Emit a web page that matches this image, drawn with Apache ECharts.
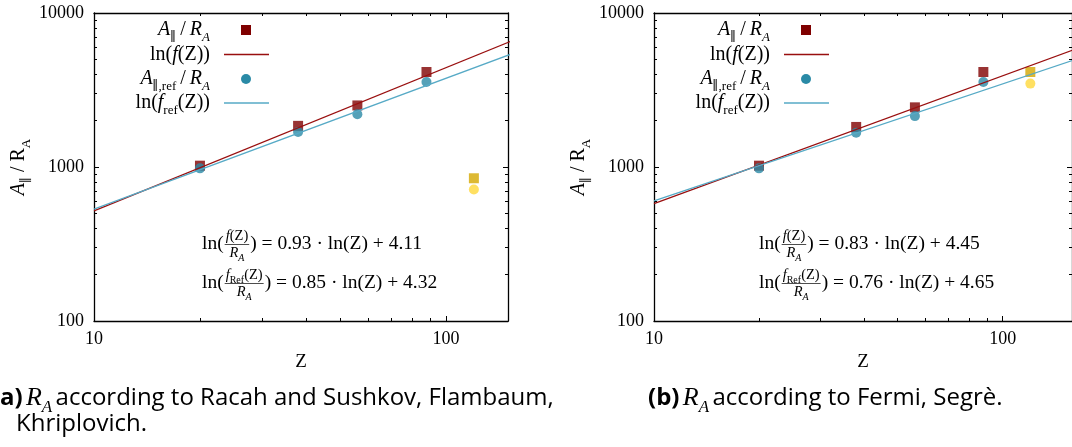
<!DOCTYPE html>
<html>
<head>
<meta charset="utf-8">
<title>A_par / R_A versus Z</title>
<script src="https://cdn.jsdelivr.net/npm/echarts@6/dist/echarts.min.js"></script>
<style>
  html, body { margin: 0; padding: 0; background: #ffffff; }
  #chart { width: 1072px; height: 447px; }
</style>
</head>
<body>
<div id="chart"></div>
<script>
// ---- data -------------------------------------------------------------
// nuclear charge of the fitted elements and of the extra element
const zFit = [20, 38, 56, 88];
const zExtra = [120];

// panel (a): R_A after Racah and Sushkov, Flambaum, Khriplovich
const aParA = [1020, 1850, 2510, 4140];
const aParRefA = [980, 1690, 2200, 3560];
const aParExtraA = [845];
const aParRefExtraA = [715];
const slopesA = [0.93, 0.85];
const interceptsA = [4.11, 4.32];

// panel (b): R_A after Fermi, Segrè
const aParB = [1020, 1820, 2440, 4140];
const aParRefB = [980, 1670, 2140, 3560];
const aParExtraB = [4140];
const aParRefExtraB = [3480];
const slopesB = [0.83, 0.76];
const interceptsB = [4.45, 4.65];

// axis ranges and ticks
const xMin = 10;
const xMaxA = 150;
const xMaxB = 158;
const yMin = 100;
const yMax = 10000;
const xMajorTicks = [10, 100];
const xMinorTicks = [20, 30, 40, 50, 60, 70, 80, 90];
const yMajorTicks = [100, 1000, 10000];
const yMinorTicks = [200, 300, 400, 500, 600, 700, 800, 900,
                     2000, 3000, 4000, 5000, 6000, 7000, 8000, 9000];

// ---- styling ----------------------------------------------------------
const SERIF = '"Liberation Serif", "DejaVu Serif", serif';
const SANS = '"Open Sans", "Noto Sans", sans-serif';
const RED_MARK = '#7f0000';
const RED_LINE = '#990f0f';
const BLUE_MARK = '#2a8aa6';
const BLUE_LINE = '#56aac6';
const GOLD_MARK = '#d4a800';
const YELLOW_MARK = '#ffd83b';

const panels = [
  { left: 94, width: 414, xMax: xMaxA, sq: aParA, ci: aParRefA, sqX: aParExtraA, ciX: aParRefExtraA,
    slopes: slopesA, intercepts: interceptsA },
  { left: 654, width: 421, xMax: xMaxB, sq: aParB, ci: aParRefB, sqX: aParExtraB, ciX: aParRefExtraB,
    slopes: slopesB, intercepts: interceptsB }
];
const gridTop = 13;
const gridHeight = 308;

// fitted power law f(Z) = exp(b) * Z^a, evaluated at the x-range ends
function fitLine(slope, intercept, xMax) {
  return [xMin, xMax + 10].map(z => [z, Math.exp(intercept) * Math.pow(z, slope)]);
}
function pairs(xs, ys) { return xs.map((x, i) => [x, ys[i]]); }

// ---- text measuring for hand-built formulas ---------------------------
const measureCtx = document.createElement('canvas').getContext('2d');
function textWidth(str, font) { measureCtx.font = font; return measureCtx.measureText(str).width; }
function runWidth(tokens) { return tokens.reduce((s, t) => s + textWidth(t[0], t[1]), 0); }

const F_MAIN = 19.5, F_FRAC = 14.5, F_SUB = 10;
const fMain = `${F_MAIN}px ${SERIF}`;
const fFrac = `${F_FRAC}px ${SERIF}`;
const fFracI = `italic ${F_FRAC}px ${SERIF}`;
const fSub = `${F_SUB}px ${SERIF}`;
const fSubI = `italic ${F_SUB}px ${SERIF}`;

const fracRich = {
  i: { fontFamily: SERIF, fontStyle: 'italic', fontSize: F_FRAC, lineHeight: 16, verticalAlign: 'middle' },
  r: { fontFamily: SERIF, fontSize: F_FRAC, lineHeight: 16, verticalAlign: 'middle' },
  s: { fontFamily: SERIF, fontSize: F_SUB, lineHeight: 10, verticalAlign: 'bottom', padding: [0, 0, -2, 0] },
  si: { fontFamily: SERIF, fontStyle: 'italic', fontSize: F_SUB, lineHeight: 10, verticalAlign: 'bottom', padding: [0, 0, -2, 0] }
};

// ln( f(Z) / R_A ) = a · ln(Z) + b
function formula(x, yc, withRef, slope, intercept) {
  const els = [];
  const head = 'ln(';
  els.push({ type: 'text', x: x, y: yc, style: { text: head, font: fMain, fill: '#000', verticalAlign: 'middle' } });
  let cx = x + textWidth(head, fMain) + 1;
  const numTokens = withRef
    ? [['f', fFracI], ['Ref', fSub], ['(Z)', fFrac]]
    : [['f', fFracI], ['(Z)', fFrac]];
  const denTokens = [['R', fFracI], ['A', fSubI]];
  const numW = runWidth(numTokens);
  const denW = runWidth(denTokens);
  const fw = Math.max(numW, denW) + 2;
  const mid = cx + fw / 2;
  els.push({ type: 'text', x: mid, y: yc - 8, style: {
    text: withRef ? '{i|f}{s|Ref}{r|(Z)}' : '{i|f}{r|(Z)}', rich: fracRich,
    fill: '#000', align: 'center', verticalAlign: 'middle' } });
  els.push({ type: 'line', shape: { x1: cx, y1: yc + 0.5, x2: cx + fw, y2: yc + 0.5 },
    style: { stroke: '#000', lineWidth: 0.7 } });
  els.push({ type: 'text', x: mid, y: yc + 9, style: {
    text: '{i|R}{si|A}', rich: fracRich, fill: '#000', align: 'center', verticalAlign: 'middle' } });
  cx += fw + 1;
  const tail = ') = ' + slope.toFixed(2) + ' \u00b7 ln(Z) + ' + intercept.toFixed(2);
  els.push({ type: 'text', x: cx, y: yc, style: { text: tail, font: fMain, fill: '#000', verticalAlign: 'middle' } });
  return els;
}

// legend rows: label (right aligned), then a marker or a line sample
const LEG = 20;
const legRich = {
  i: { fontFamily: SERIF, fontStyle: 'italic', fontSize: LEG, lineHeight: 24, verticalAlign: 'middle' },
  r: { fontFamily: SERIF, fontSize: LEG, lineHeight: 24, verticalAlign: 'middle' },
  s: { fontFamily: SERIF, fontSize: 13, lineHeight: 13, verticalAlign: 'bottom', padding: [0, 0, -2, 0] },
  si: { fontFamily: SERIF, fontStyle: 'italic', fontSize: 13, lineHeight: 13, verticalAlign: 'bottom', padding: [0, 0, -2, 0] }
};
const legendLabels = [
  '{i|A}{s|\u2225}{r|\u2009/\u2009}{i|R}{si|A}',
  '{r|ln(}{i|f}{r|(Z))}',
  '{i|A}{s|\u2225,ref}{r|\u2009/\u2009}{i|R}{si|A}',
  '{r|ln(}{i|f}{s|ref}{r|(Z))}'
];
const legendRows = [30, 54.5, 79, 103];

function legend(gl) {
  const els = [];
  const tx = gl + 116, sx = gl + 152, l1 = gl + 130, l2 = gl + 175;
  legendLabels.forEach((lab, k) => {
    els.push({ type: 'text', x: tx, y: legendRows[k], style: {
      text: lab, rich: legRich, fill: '#000', align: 'right', verticalAlign: 'middle' } });
  });
  els.push({ type: 'rect', shape: { x: sx - 5, y: legendRows[0] - 5, width: 10, height: 10 }, style: { fill: RED_MARK } });
  els.push({ type: 'line', shape: { x1: l1, y1: legendRows[1], x2: l2, y2: legendRows[1] }, style: { stroke: RED_LINE, lineWidth: 1.3 } });
  els.push({ type: 'circle', shape: { cx: sx, cy: legendRows[2], r: 5 }, style: { fill: BLUE_MARK } });
  els.push({ type: 'line', shape: { x1: l1, y1: legendRows[3], x2: l2, y2: legendRows[3] }, style: { stroke: BLUE_LINE, lineWidth: 1.3 } });
  return els;
}

// ---- axes ---------------------------------------------------------------
const axisLineStyle = { color: '#000', width: 1.3 };
const yNameRich = {
  i: { fontFamily: SERIF, fontStyle: 'italic', fontSize: 20, lineHeight: 24, verticalAlign: 'middle', color: '#000' },
  r: { fontFamily: SERIF, fontSize: 20, lineHeight: 24, verticalAlign: 'middle', color: '#000' },
  s: { fontFamily: SERIF, fontSize: 13, lineHeight: 13, verticalAlign: 'bottom', padding: [0, 0, -2, 0], color: '#000' }
};

const xAxes = [], yAxes = [];
panels.forEach((p, g) => {
  const xBase = { type: 'log', logBase: 10, gridIndex: g, min: xMin, max: p.xMax,
    splitLine: { show: false }, axisPointer: { show: false } };
  const yBase = { type: 'log', logBase: 10, gridIndex: g, min: yMin, max: yMax,
    splitLine: { show: false }, axisPointer: { show: false } };
  const labelStyle = { color: '#000', fontFamily: SERIF, fontSize: 18,
    formatter: v => String(Math.round(v)) };
  // bottom, with labels and title
  xAxes.push(Object.assign({}, xBase, { position: 'bottom',
    axisLine: { lineStyle: axisLineStyle },
    axisTick: { inside: true, length: 5, lineStyle: { color: '#000' }, customValues: xMajorTicks },
    axisLabel: Object.assign({ margin: 9, customValues: xMajorTicks }, labelStyle),
    name: 'Z', nameLocation: 'middle', nameGap: 32,
    nameTextStyle: { fontFamily: SERIF, fontSize: 19, color: '#000' } }));
  xAxes.push(Object.assign({}, xBase, { position: 'bottom',
    axisLine: { show: false },
    axisTick: { inside: true, length: 3, lineStyle: { color: '#000' }, customValues: xMinorTicks },
    axisLabel: { show: false } }));
  // mirrored at the top
  xAxes.push(Object.assign({}, xBase, { position: 'top',
    axisLine: { lineStyle: axisLineStyle },
    axisTick: { inside: true, length: 5, lineStyle: { color: '#000' }, customValues: xMajorTicks },
    axisLabel: { show: false } }));
  xAxes.push(Object.assign({}, xBase, { position: 'top',
    axisLine: { show: false },
    axisTick: { inside: true, length: 3, lineStyle: { color: '#000' }, customValues: xMinorTicks },
    axisLabel: { show: false } }));

  yAxes.push(Object.assign({}, yBase, { position: 'left',
    axisLine: { lineStyle: axisLineStyle },
    axisTick: { inside: true, length: 5, lineStyle: { color: '#000' }, customValues: yMajorTicks },
    axisLabel: Object.assign({ margin: 10, customValues: yMajorTicks }, labelStyle),
    name: '{i|A}{s|\u2225}{r| / R}{s|A}', nameLocation: 'middle', nameRotate: 90, nameGap: 63,
    nameTextStyle: { rich: yNameRich } }));
  yAxes.push(Object.assign({}, yBase, { position: 'left',
    axisLine: { show: false },
    axisTick: { inside: true, length: 3, lineStyle: { color: '#000' }, customValues: yMinorTicks },
    axisLabel: { show: false } }));
  yAxes.push(Object.assign({}, yBase, { position: 'right',
    axisLine: { lineStyle: axisLineStyle },
    axisTick: { inside: true, length: 5, lineStyle: { color: '#000' }, customValues: yMajorTicks },
    axisLabel: { show: false } }));
  yAxes.push(Object.assign({}, yBase, { position: 'right',
    axisLine: { show: false },
    axisTick: { inside: true, length: 3, lineStyle: { color: '#000' }, customValues: yMinorTicks },
    axisLabel: { show: false } }));
});

// ---- series -------------------------------------------------------------
const series = [];
panels.forEach((p, g) => {
  const xi = g * 4, yi = g * 4;
  const common = { xAxisIndex: xi, yAxisIndex: yi, animation: false, silent: true };
  series.push(Object.assign({ type: 'scatter', symbol: 'rect', symbolSize: 10,
    itemStyle: { color: RED_MARK }, data: pairs(zFit, p.sq) }, common));
  series.push(Object.assign({ type: 'line', showSymbol: false, symbol: 'none',
    lineStyle: { color: RED_LINE, width: 1.3 }, data: fitLine(p.slopes[0], p.intercepts[0], p.xMax) }, common));
  series.push(Object.assign({ type: 'scatter', symbol: 'circle', symbolSize: 10,
    itemStyle: { color: BLUE_MARK }, data: pairs(zFit, p.ci) }, common));
  series.push(Object.assign({ type: 'line', showSymbol: false, symbol: 'none',
    lineStyle: { color: BLUE_LINE, width: 1.3 }, data: fitLine(p.slopes[1], p.intercepts[1], p.xMax) }, common));
  series.push(Object.assign({ type: 'scatter', symbol: 'rect', symbolSize: 10,
    itemStyle: { color: GOLD_MARK }, data: pairs(zExtra, p.sqX) }, common));
  series.push(Object.assign({ type: 'scatter', symbol: 'circle', symbolSize: 10,
    itemStyle: { color: YELLOW_MARK }, data: pairs(zExtra, p.ciX) }, common));
});

// ---- annotations: legends, fit formulas, sub-captions --------------------
let graphics = [];
panels.forEach((p, g) => {
  graphics = graphics.concat(legend(p.left));
  const fx = p.left + (g === 0 ? 108 : 105);
  graphics = graphics.concat(formula(fx, 244, false, p.slopes[0], p.intercepts[0]));
  graphics = graphics.concat(formula(fx, 283, true, p.slopes[1], p.intercepts[1]));
});

const CAP = 24;
const capRich = {
  b: { fontFamily: SANS, fontWeight: 'bold', fontSize: CAP, color: '#000' },
  t: { fontFamily: SANS, fontSize: CAP, color: '#000' },
  ri: { fontFamily: SERIF, fontStyle: 'italic', fontSize: 26, color: '#000' },
  rs: { fontFamily: SERIF, fontStyle: 'italic', fontSize: 17, color: '#000', verticalAlign: 'bottom', padding: [0, 0, -5, 0] }
};
graphics.push({ type: 'text', x: 0, y: 398, style: {
  text: '{b|a)} {ri|R}{rs|A} {t|according to Racah and Sushkov, Flambaum,}', rich: capRich, verticalAlign: 'middle' } });
graphics.push({ type: 'text', x: 16, y: 424, style: {
  text: '{t|Khriplovich.}', rich: capRich, verticalAlign: 'middle' } });
graphics.push({ type: 'text', x: 648, y: 398, style: {
  text: '{b|(b)} {ri|R}{rs|A} {t|according to Fermi, Segrè.}', rich: capRich, verticalAlign: 'middle' } });

// ---- chart --------------------------------------------------------------
const chart = echarts.init(document.getElementById('chart'), null, { renderer: 'canvas' });
chart.setOption({
  animation: false,
  backgroundColor: '#ffffff',
  grid: panels.map(p => ({ left: p.left, top: gridTop, width: p.width, height: gridHeight, containLabel: false })),
  xAxis: xAxes,
  yAxis: yAxes,
  series: series,
  graphic: { elements: graphics }
});
</script>
</body>
</html>
